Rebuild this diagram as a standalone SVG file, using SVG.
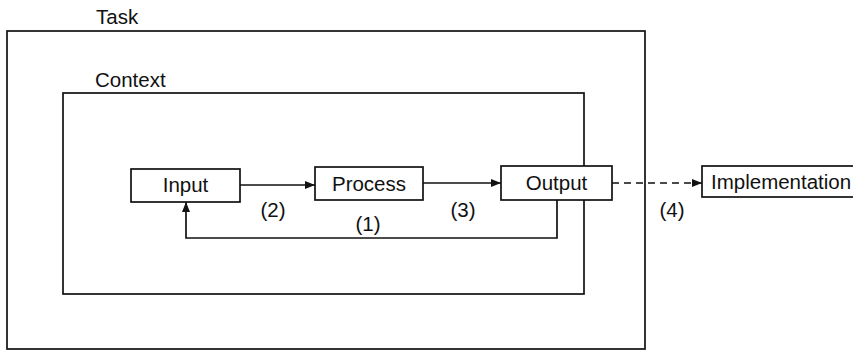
<svg xmlns="http://www.w3.org/2000/svg" width="853" height="352" viewBox="0 0 853 352">
<style>
.box{fill:#fff;stroke:#111;stroke-width:1.7}
.frame{fill:none;stroke:#111;stroke-width:1.7}
.lbl{font-family:"Liberation Sans",Arial,sans-serif;font-size:20.5px;fill:#111}
.c{text-anchor:middle}
.line{fill:none;stroke:#111;stroke-width:1.7}
.dash{stroke-dasharray:7 5}
</style>
<defs>
<marker id="ah" viewBox="0 0 10 10" refX="10" refY="5" markerWidth="10" markerHeight="10" markerUnits="userSpaceOnUse" orient="auto">
<path d="M0,1 L10,5 L0,9 z" fill="#111"/>
</marker>
</defs>
<rect width="853" height="352" fill="#fff"/>
<g id="task">
<rect class="frame" x="7" y="31" width="638" height="318"/>
<text class="lbl" x="96" y="24">Task</text>
</g>
<g id="context">
<rect class="frame" x="63" y="93" width="521" height="201"/>
<text class="lbl" x="95" y="87">Context</text>
</g>
<g id="connectors">
<line class="line" x1="240" y1="185" x2="315" y2="185" marker-end="url(#ah)"/>
<line class="line" x1="423" y1="183" x2="501" y2="183" marker-end="url(#ah)"/>
<line class="line dash" x1="612" y1="183" x2="702" y2="183" marker-end="url(#ah)"/>
<polyline class="line" points="557,200 557,238 186,238 186,202" marker-end="url(#ah)"/>
<text class="lbl c" x="273" y="217">(2)</text>
<text class="lbl c" x="368" y="231">(1)</text>
<text class="lbl c" x="463" y="217">(3)</text>
<text class="lbl c" x="672" y="217">(4)</text>
</g>
<g id="input">
<rect class="box" x="131" y="169" width="109" height="33"/>
<text class="lbl c" x="185.5" y="192">Input</text>
</g>
<g id="process">
<rect class="box" x="315" y="167" width="108" height="33"/>
<text class="lbl c" x="369" y="191">Process</text>
</g>
<g id="output">
<rect class="box" x="501" y="166" width="111" height="34"/>
<text class="lbl c" x="556.5" y="190">Output</text>
</g>
<g id="implementation">
<rect class="box" x="702" y="166" width="160" height="31"/>
<text class="lbl" x="711" y="189">Implementation</text>
</g>
</svg>
